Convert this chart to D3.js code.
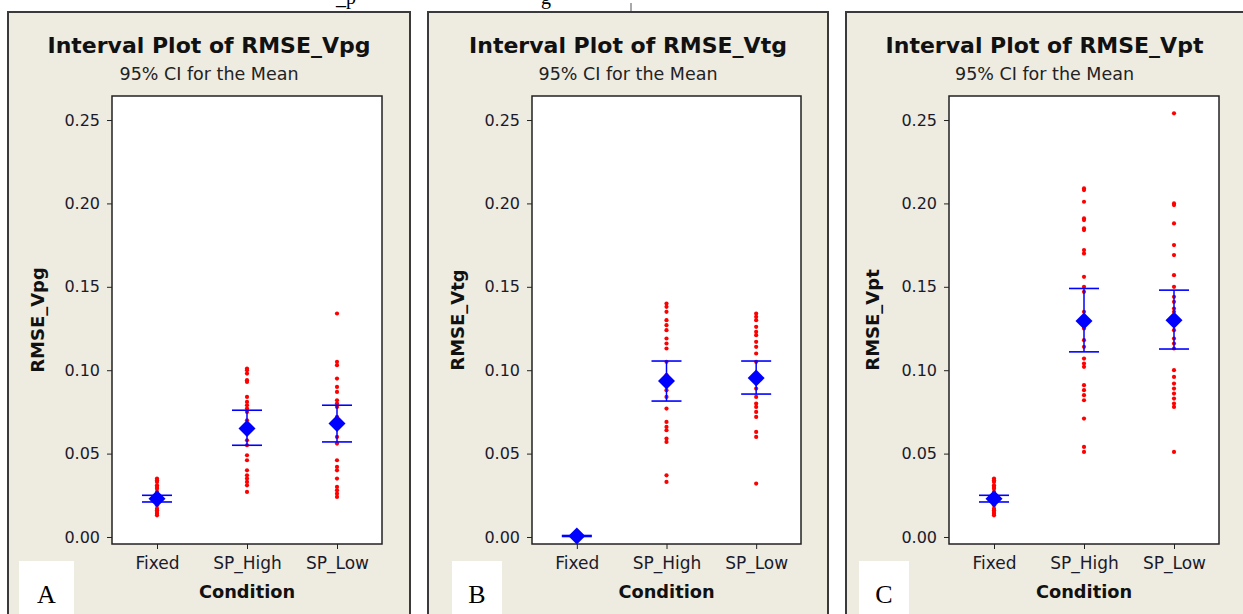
<!DOCTYPE html>
<html>
<head>
<meta charset="utf-8">
<title>Interval Plots</title>
<script src="https://cdn.jsdelivr.net/npm/d3@7"></script>
<style>
  body { margin: 0; background: #fff; }
  text { font-family: "DejaVu Sans", Verdana, sans-serif; }
</style>
</head>
<body>
<svg width="1243" height="614" id="mainsvg"></svg>
<script>
const categories = ['Fixed', 'SP_High', 'SP_Low'];
const yTicks = [0.00, 0.05, 0.10, 0.15, 0.20, 0.25];

// RMSE_Vpg individual values
const vpgFixed = [0.035, 0.034, 0.033, 0.031, 0.030, 0.029, 0.027, 0.025, 0.024, 0.023, 0.022, 0.021, 0.020, 0.019, 0.017, 0.016, 0.015, 0.014, 0.013];
const vpgHigh = [0.101, 0.100, 0.098, 0.094, 0.093, 0.084, 0.081, 0.079, 0.077, 0.075, 0.070, 0.066, 0.062, 0.058, 0.055, 0.049, 0.046, 0.040, 0.037, 0.035, 0.033, 0.031, 0.027];
const vpgLow = [0.134, 0.105, 0.103, 0.095, 0.090, 0.087, 0.082, 0.080, 0.078, 0.072, 0.066, 0.060, 0.056, 0.046, 0.042, 0.040, 0.035, 0.030, 0.028, 0.026, 0.024];
const vpgMean = [0.023, 0.065, 0.068];
const vpgLower = [0.021, 0.055, 0.057];
const vpgUpper = [0.025, 0.076, 0.079];

// RMSE_Vtg individual values
const vtgFixed = [0.002, 0.0015, 0.001, 0.001, 0.0008, 0.0005, 0.0003];
const vtgHigh = [0.140, 0.138, 0.135, 0.130, 0.127, 0.124, 0.119, 0.116, 0.113, 0.105, 0.097, 0.092, 0.088, 0.084, 0.077, 0.069, 0.066, 0.064, 0.059, 0.057, 0.037, 0.033];
const vtgLow = [0.134, 0.132, 0.130, 0.126, 0.123, 0.121, 0.117, 0.114, 0.110, 0.105, 0.098, 0.093, 0.089, 0.084, 0.080, 0.078, 0.075, 0.072, 0.063, 0.060, 0.032];
const vtgMean = [0.0006, 0.0935, 0.0953];
const vtgLower = [0.0003, 0.0815, 0.0857];
const vtgUpper = [0.0009, 0.1055, 0.1055];

// RMSE_Vpt individual values
const vptFixed = [0.035, 0.034, 0.033, 0.031, 0.030, 0.029, 0.027, 0.025, 0.024, 0.023, 0.022, 0.021, 0.020, 0.019, 0.017, 0.016, 0.015, 0.014, 0.013];
const vptHigh = [0.209, 0.208, 0.201, 0.191, 0.190, 0.185, 0.184, 0.172, 0.170, 0.156, 0.150, 0.147, 0.135, 0.125, 0.118, 0.114, 0.107, 0.104, 0.102, 0.091, 0.088, 0.085, 0.082, 0.071, 0.054, 0.051];
const vptLow = [0.254, 0.200, 0.199, 0.188, 0.175, 0.169, 0.157, 0.150, 0.144, 0.141, 0.137, 0.135, 0.132, 0.128, 0.124, 0.119, 0.116, 0.113, 0.100, 0.096, 0.092, 0.089, 0.086, 0.083, 0.080, 0.078, 0.051];
const vptMean = [0.023, 0.1295, 0.130];
const vptLower = [0.021, 0.111, 0.1127];
const vptUpper = [0.025, 0.149, 0.148];

const svg = d3.select('#mainsvg');

// caption text from the page above, cut off by the crop
svg.append('text').attr('x', 336).attr('y', 4)
  .style('font-family', '"Liberation Serif", serif').style('font-size', '20px').text('_p');
svg.append('text').attr('x', 541).attr('y', 4)
  .style('font-family', '"Liberation Serif", serif').style('font-size', '20px').text('g');
svg.append('line').attr('x1', 631).attr('x2', 631).attr('y1', 3).attr('y2', 12)
  .attr('stroke', '#555').attr('stroke-width', 1);

const panels = [
  { name: 'RMSE_Vpg', letter: 'A', box: [8, 410], plot: [112, 382], yLab: 44, tag: [19, 74],
    values: [vpgFixed, vpgHigh, vpgLow], mean: vpgMean, lower: vpgLower, upper: vpgUpper },
  { name: 'RMSE_Vtg', letter: 'B', box: [428, 828], plot: [532, 801], yLab: 464, tag: [452, 502],
    values: [vtgFixed, vtgHigh, vtgLow], mean: vtgMean, lower: vtgLower, upper: vtgUpper },
  { name: 'RMSE_Vpt', letter: 'C', box: [846, 1250], plot: [949, 1219], yLab: 879, tag: [859, 909],
    values: [vptFixed, vptHigh, vptLow], mean: vptMean, lower: vptLower, upper: vptUpper }
];

const plotTop = 96, plotBottom = 544;

panels.forEach(p => {
  const g = svg.append('g');
  const cx = (p.box[0] + Math.min(p.box[1], 1243)) / 2;

  g.append('rect')
    .attr('x', p.box[0]).attr('y', 12)
    .attr('width', p.box[1] - p.box[0]).attr('height', 640)
    .attr('fill', '#eeebe1').attr('stroke', '#3a3a3a').attr('stroke-width', 2);

  g.append('text').attr('x', cx).attr('y', 53)
    .attr('text-anchor', 'middle').attr('font-weight', 'bold').attr('font-size', 22)
    .attr('fill', '#111')
    .text('Interval Plot of ' + p.name);
  g.append('text').attr('x', cx).attr('y', 80)
    .attr('text-anchor', 'middle').attr('font-size', 17.5).attr('fill', '#222')
    .text('95% CI for the Mean');

  const xScale = d3.scalePoint().domain(categories).range(p.plot).padding(0.5);
  const yScale = d3.scaleLinear().domain([-0.0042, 0.2644]).range([plotBottom, plotTop]);

  g.append('rect')
    .attr('x', p.plot[0]).attr('y', plotTop)
    .attr('width', p.plot[1] - p.plot[0]).attr('height', plotBottom - plotTop)
    .attr('fill', '#fff').attr('stroke', '#222').attr('stroke-width', 1.5);

  const yAxis = d3.axisLeft(yScale).tickValues(yTicks).tickFormat(d3.format('.2f'))
    .tickSize(5).tickSizeOuter(0).tickPadding(7);
  const xAxis = d3.axisBottom(xScale).tickSize(5).tickSizeOuter(0).tickPadding(8);

  const ya = g.append('g').attr('transform', `translate(${p.plot[0]},0)`).call(yAxis);
  const xa = g.append('g').attr('transform', `translate(0,${plotBottom})`).call(xAxis);
  [ya, xa].forEach(a => {
    a.select('.domain').remove();
    a.selectAll('.tick line').attr('stroke', '#222');
    a.selectAll('.tick text').attr('fill', '#1a1a2a')
      .style('font-family', '"DejaVu Sans", sans-serif');
  });
  ya.selectAll('.tick text').attr('font-size', 16);
  xa.selectAll('.tick text').attr('font-size', 17);

  g.append('text').attr('x', (p.plot[0] + p.plot[1]) / 2).attr('y', 598)
    .attr('text-anchor', 'middle').attr('font-weight', 'bold').attr('font-size', 17.8)
    .attr('fill', '#111').text('Condition');
  g.append('text')
    .attr('transform', `translate(${p.yLab},${(plotTop + plotBottom) / 2}) rotate(-90)`)
    .attr('text-anchor', 'middle').attr('font-weight', 'bold').attr('font-size', 18)
    .attr('fill', '#111').text(p.name);

  // individual values
  categories.forEach((c, i) => {
    g.append('g').selectAll('circle').data(p.values[i]).join('circle')
      .attr('cx', xScale(c)).attr('cy', d => yScale(d))
      .attr('r', 2.1).attr('fill', '#ff0000');
  });

  // CI bars and mean symbol
  const ci = g.append('g').selectAll('g').data(categories).join('g');
  ci.append('line')
    .attr('x1', c => xScale(c)).attr('x2', c => xScale(c))
    .attr('y1', (c, i) => yScale(p.upper[i])).attr('y2', (c, i) => yScale(p.lower[i]))
    .attr('stroke', '#0000ff').attr('stroke-width', 1.5);
  ['upper', 'lower'].forEach(k => {
    ci.append('line')
      .attr('x1', c => xScale(c) - 15).attr('x2', c => xScale(c) + 15)
      .attr('y1', (c, i) => yScale(p[k][i])).attr('y2', (c, i) => yScale(p[k][i]))
      .attr('stroke', '#0000ff').attr('stroke-width', 1.6);
  });
  ci.append('path')
    .attr('d', (c, i) => {
      const x = xScale(c), y = yScale(p.mean[i]), r = 8.5;
      return `M${x},${y - r}L${x + r},${y}L${x},${y + r}L${x - r},${y}Z`;
    })
    .attr('fill', '#0000ff');

  // panel letter
  g.append('rect').attr('x', p.tag[0]).attr('y', 561)
    .attr('width', p.tag[1] - p.tag[0]).attr('height', 60).attr('fill', '#fff');
  g.append('text').attr('x', (p.tag[0] + p.tag[1]) / 2).attr('y', 603)
    .attr('text-anchor', 'middle').attr('font-size', 26)
    .style('font-family', '"Liberation Serif", "Times New Roman", serif')
    .attr('fill', '#000').text(p.letter);
});
</script>
</body>
</html>
